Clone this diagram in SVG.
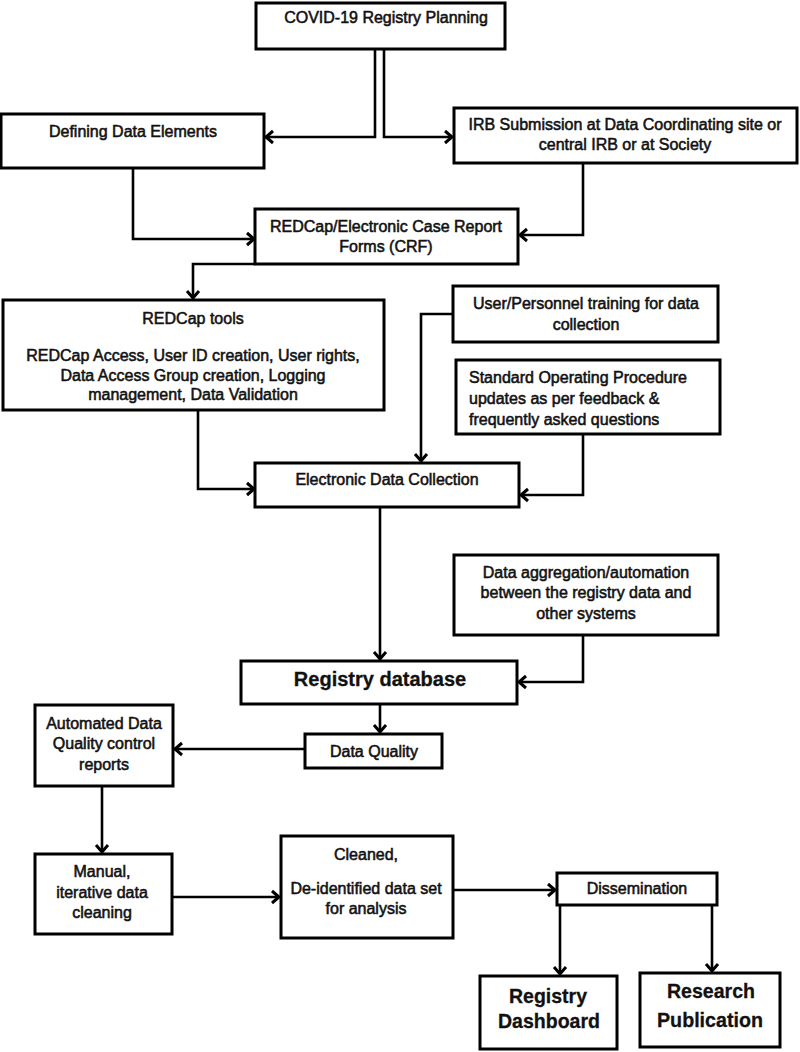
<svg xmlns="http://www.w3.org/2000/svg" width="800" height="1052" viewBox="0 0 800 1052">
<defs>
<marker id="ah" markerUnits="userSpaceOnUse" markerWidth="14" markerHeight="16" refX="10" refY="8" orient="auto">
<path d="M3,2 L10,8 L3,14" fill="none" stroke="#000" stroke-width="3"/>
</marker>
<style>
rect{fill:#fff;stroke:#000;stroke-width:3}
text{font-family:"Liberation Sans",Arial,sans-serif;font-size:16px;fill:#111;stroke:#111;stroke-width:0.55;text-anchor:middle}
.big{font-size:20px;font-weight:bold;stroke-width:0.3}
.huge{font-size:21px;font-weight:bold;stroke-width:0.3}
.l{text-anchor:start}
#connectors path{fill:none;stroke:#000;stroke-width:2.6;marker-end:url(#ah)}
</style>
</defs>
<rect x="0" y="0" width="800" height="1052" style="fill:#fff;stroke:none"/>
<g id="connectors">
<path d="M375,49 V137 H266"/>
<path d="M384,49 V137 H452"/>
<path d="M133,168 V239 H254"/>
<path d="M583,163 V235 H520"/>
<path d="M255,264 H193 V298"/>
<path d="M198,410 V489 H254"/>
<path d="M453,314 H421 V461"/>
<path d="M583,434 V495 H521"/>
<path d="M380,507 V659"/>
<path d="M583,636 V682 H519"/>
<path d="M380,704 V732"/>
<path d="M305,749 H175"/>
<path d="M102,787 V852"/>
<path d="M173,897 H279"/>
<path d="M454,890 H555"/>
<path d="M560,906 V974"/>
<path d="M712,906 V971"/>
</g>
<g id="covid"><rect x="256" y="3" width="249" height="46"/><text x="386" y="23">COVID-19 Registry Planning</text></g>
<g id="defining"><rect x="1" y="114" width="263" height="54"/><text x="133" y="137">Defining Data Elements</text></g>
<g id="irb"><rect x="454" y="108" width="343" height="55"/><text x="625" y="130">IRB Submission at Data Coordinating site or</text><text x="625" y="150">central IRB or at Society</text></g>
<g id="crf"><rect x="255" y="209" width="263" height="55"/><text x="386" y="232">REDCap/Electronic Case Report</text><text x="386" y="252">Forms (CRF)</text></g>
<g id="tools"><rect x="3" y="300" width="381" height="110"/><text x="193" y="324">REDCap tools</text><text x="193" y="361">REDCap Access, User ID creation, User rights,</text><text x="193" y="381">Data Access Group creation, Logging</text><text x="193" y="400">management, Data Validation</text></g>
<g id="training"><rect x="453" y="286" width="265" height="56"/><text x="586" y="309">User/Personnel training for data</text><text x="586" y="330">collection</text></g>
<g id="sop"><rect x="456" y="360" width="264" height="74"/><text class="l" x="469" y="383">Standard Operating Procedure</text><text class="l" x="469" y="404">updates as per feedback &amp;</text><text class="l" x="469" y="425">frequently asked questions</text></g>
<g id="edc"><rect x="255" y="463" width="264" height="44"/><text x="387" y="485">Electronic Data Collection</text></g>
<g id="aggregation"><rect x="454" y="555" width="264" height="80"/><text x="586" y="578">Data aggregation/automation</text><text x="586" y="598">between the registry data and</text><text x="586" y="619">other systems</text></g>
<g id="registry"><rect x="241" y="661" width="276" height="43"/><text class="big" x="380" y="686">Registry database</text></g>
<g id="dq"><rect x="305" y="734" width="137" height="34"/><text x="374" y="757">Data Quality</text></g>
<g id="adq"><rect x="35" y="705" width="138" height="81"/><text x="104" y="729">Automated Data</text><text x="104" y="749">Quality control</text><text x="104" y="770">reports</text></g>
<g id="manual"><rect x="35" y="854" width="137" height="80"/><text x="102" y="877">Manual,</text><text x="102" y="898">iterative data</text><text x="102" y="918">cleaning</text></g>
<g id="cleaned"><rect x="281" y="836" width="172" height="102"/><text x="366" y="860">Cleaned,</text><text x="366" y="894">De-identified data set</text><text x="366" y="914">for analysis</text></g>
<g id="dissemination"><rect x="557" y="873" width="160" height="32"/><text x="637" y="894">Dissemination</text></g>
<g id="dashboard"><rect x="480" y="976" width="137" height="73"/><text class="huge" x="548" y="1003" textLength="78" lengthAdjust="spacingAndGlyphs">Registry</text><text class="huge" x="549" y="1028" textLength="102" lengthAdjust="spacingAndGlyphs">Dashboard</text></g>
<g id="publication"><rect x="640" y="973" width="140" height="74"/><text class="huge" x="711" y="998" textLength="88" lengthAdjust="spacingAndGlyphs">Research</text><text class="huge" x="710" y="1027" textLength="106" lengthAdjust="spacingAndGlyphs">Publication</text></g>
</svg>
